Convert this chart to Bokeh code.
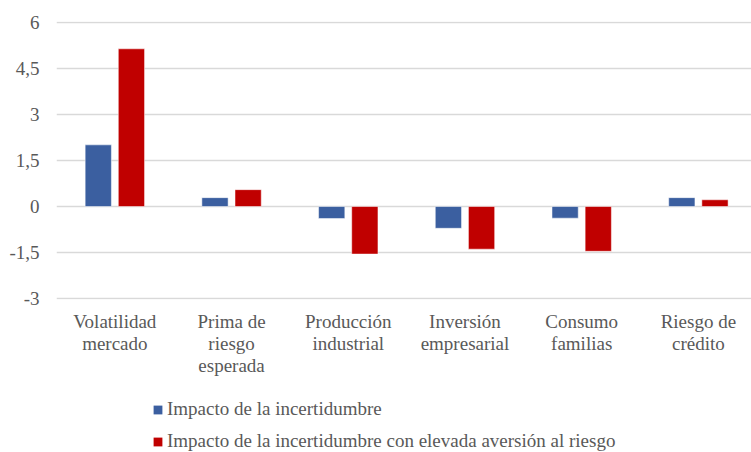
from bokeh.plotting import figure
from bokeh.models import (ColumnDataSource, Range1d, FixedTicker, Legend, LegendItem)
from bokeh.layouts import column
from bokeh.embed import file_html
from bokeh.resources import INLINE
import numpy as np

categories = ["Volatilidad\nmercado", "Prima de\nriesgo\nesperada", "Producción\nindustrial",
              "Inversión\nempresarial", "Consumo\nfamilias", "Riesgo de\ncrédito"]
impacto = [2.01, 0.29, -0.39, -0.71, -0.38, 0.29]
impacto_aversion = [5.14, 0.55, -1.55, -1.39, -1.46, 0.22]
y_ticks = [-3, -1.5, 0, 1.5, 3, 4.5, 6]
y_tick_labels = ["-3", "-1,5", "0", "1,5", "3", "4,5", "6"]
series_names = ["Impacto de la incertidumbre",
                "Impacto de la incertidumbre con elevada aversión al riesgo"]
colors = ["#3B5FA0", "#C00000"]

FONT = "Liberation Serif"
TXT = "#595959"

idx = np.arange(len(categories)) + 0.5
src = ColumnDataSource(dict(
    xb=idx - 0.142, xr=idx + 0.142,
    a=impacto, b=impacto_aversion,
))

p = figure(width=751, height=385, output_backend="svg", toolbar_location=None,
           x_range=Range1d(0, 5.955), y_range=Range1d(-3.03, 6.03),
           min_border_left=56, min_border_right=0, min_border_top=21,
           min_border_bottom=86)
p.outline_line_color = None
p.background_fill_color = "white"
p.border_fill_color = "white"

p.vbar(x="xb", top="a", bottom=0, width=0.225, source=src,
       fill_color=colors[0], line_color="white", line_alpha=0.5, line_width=1)
p.vbar(x="xr", top="b", bottom=0, width=0.225, source=src,
       fill_color=colors[1], line_color="white", line_alpha=0.5, line_width=1)

# axes
p.yaxis.ticker = FixedTicker(ticks=y_ticks)
p.yaxis.major_label_overrides = {t: l for t, l in zip(y_ticks, y_tick_labels)}
p.xaxis.ticker = FixedTicker(ticks=list(idx))
p.xaxis.major_label_overrides = {float(t): c for t, c in zip(idx, categories)}
for ax in (p.xaxis, p.yaxis):
    ax.axis_line_color = None
    ax.major_tick_line_color = None
    ax.minor_tick_line_color = None
    ax.major_tick_out = 0
    ax.major_tick_in = 0
    ax.major_label_text_font = FONT
    ax.major_label_text_font_size = "19px"
    ax.major_label_text_color = TXT
p.yaxis.major_label_standoff = 17
p.xaxis.major_label_standoff = 11
p.xaxis.major_label_text_line_height = 1.05

p.xgrid.grid_line_color = None
p.ygrid.ticker = FixedTicker(ticks=y_ticks)
p.ygrid.grid_line_color = "#D9D9D9"
p.ygrid.grid_line_width = 1.3

# legend strip below the chart (its bar renderers are hidden; only the legend shows)
q = figure(width=751, height=67, output_backend="svg", toolbar_location=None,
           x_range=Range1d(0, 5.955), y_range=Range1d(0, 1),
           x_axis_location=None, y_axis_location=None,
           min_border_left=0, min_border_right=0, min_border_top=0,
           min_border_bottom=0)
q.grid.visible = False
q.outline_line_color = None
q.background_fill_color = "white"
q.border_fill_color = "white"
lr = [q.vbar(x=xc, top=tc, bottom=0, width=0.225, source=src, fill_color=c,
             line_color=None, visible=False)
      for xc, tc, c in zip(["xb", "xr"], ["a", "b"], colors)]
legend = Legend(items=[LegendItem(label=n, renderers=[r]) for n, r in zip(series_names, lr)],
                location=(96, 0), orientation="vertical",
                label_text_font=FONT, label_text_font_size="19px",
                label_text_color=TXT, glyph_width=11, glyph_height=11,
                label_height=21, spacing=10, padding=0, margin=0,
                label_standoff=4, border_line_color=None,
                background_fill_alpha=0, inactive_fill_alpha=0)
q.add_layout(legend, "center")

open("out.html", "w").write(file_html(column(p, q), INLINE))
